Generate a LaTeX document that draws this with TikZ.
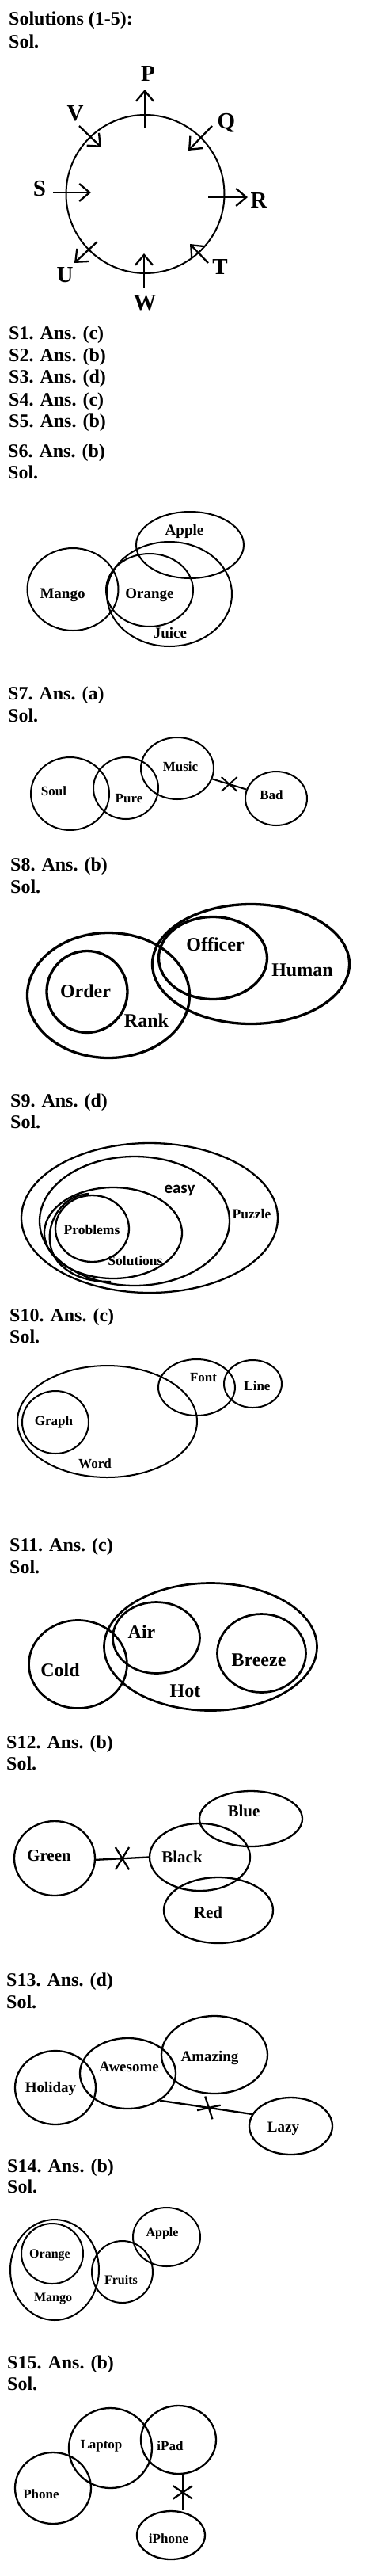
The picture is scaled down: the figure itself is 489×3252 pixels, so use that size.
\documentclass[tikz,border=0pt]{standalone}
\usepackage{fontspec}
\setmainfont{Liberation Serif}
\newfontfamily\easyfont{Carlito}
\usetikzlibrary{shapes.geometric,shapes.misc,arrows.meta}
\tikzset{
  ov/.style={draw, ellipse, inner sep=0pt, line width=2pt},
  wh/.style 2 args={minimum width=#1pt, minimum height=#2pt},
  hd/.style={anchor=base west, inner sep=0pt, font=\bfseries\fontsize{24}{24}\selectfont},
  lb/.style={anchor=mid, inner sep=0pt, font=\bfseries\fontsize{#1}{#1}\selectfont},
  letter/.style={anchor=center, inner sep=0pt, font=\bfseries\fontsize{29}{29}\selectfont},
  xm/.style 2 args={cross out, draw, inner sep=0pt, minimum width=#1pt, minimum height=#2pt},
  arr/.style={line width=2.3pt, -{Straight Barb[length=13pt, width=22pt]}},
}
\begin{document}
\begin{tikzpicture}[x=1pt, y=-1pt]
\useasboundingbox (0,0) rectangle (489,3252);
% ---------- headers ----------
\node[hd] (h0) at (11,32) {Solutions (1-5):};
\node[hd] (h0s) at (11,61) {Sol.};
\node[hd] (h1) at (11,428) {S1. Ans. (c)};
\node[hd] (h2) at (11,456) {S2. Ans. (b)};
\node[hd] (h3) at (11,483) {S3. Ans. (d)};
\node[hd] (h4) at (11,512) {S4. Ans. (c)};
\node[hd] (h5) at (11,539) {S5. Ans. (b)};
\node[hd] (h6) at (10,577) {S6. Ans. (b)};
\node[hd] (h6s) at (10,604) {Sol.};
\node[hd] (h7) at (10,883) {S7. Ans. (a)};
\node[hd] (h7s) at (10,911) {Sol.};
\node[hd] (h8) at (13,1099) {S8. Ans. (b)};
\node[hd] (h8s) at (13,1127) {Sol.};
\node[hd] (h9) at (13,1397) {S9. Ans. (d)};
\node[hd] (h9s) at (13,1424) {Sol.};
\node[hd] (h10) at (12,1668) {S10. Ans. (c)};
\node[hd] (h10s) at (12,1695) {Sol.};
\node[hd] (h11) at (12,1958) {S11. Ans. (c)};
\node[hd] (h11s) at (12,1986) {Sol.};
\node[hd] (h12) at (8,2207) {S12. Ans. (b)};
\node[hd] (h12s) at (8,2234) {Sol.};
\node[hd] (h13) at (8,2507) {S13. Ans. (d)};
\node[hd] (h13s) at (8,2535) {Sol.};
\node[hd] (h14) at (9,2742) {S14. Ans. (b)};
\node[hd] (h14s) at (9,2768) {Sol.};
\node[hd] (h15) at (9,2990) {S15. Ans. (b)};
\node[hd] (h15s) at (9,3017) {Sol.};
% ---------- circle (1-5) ----------
\node[draw, circle, line width=2pt, minimum size=200pt, inner sep=0pt] (ring) at (183.5,245) {};
\draw[arr] (183,161) -- (183,113);
\draw[arr] (100,159) -- (128,186);
\draw[arr] (268,159) -- (238,190);
\draw[arr] (67,243) -- (115,243);
\draw[arr] (263,249) -- (313,249);
\draw[arr] (123,305) -- (94,332);
\draw[arr] (182,363) -- (182,320);
\draw[arr] (263,332) -- (240,308);
\node[letter] (lP) at (187,93) {P};
\node[letter] (lV) at (95,143) {V};
\node[letter] (lQ) at (286,155) {Q};
\node[letter] (lS) at (50,238) {S};
\node[letter] (lR) at (327,253) {R};
\node[letter] (lU) at (82,347) {U};
\node[letter] (lW) at (183,382) {W};
\node[letter] (lT) at (278,337) {T};
% ---------- S6 ----------
\node[ov, wh={136}{84}] (apple6) at (240,688) {};
\node[ov, wh={115}{104}] (mango6) at (92,744) {};
\node[ov, wh={110}{92}] (orange6) at (189,745) {};
\node[ov, wh={158}{132}] (juice6) at (214,750) {};
\node[lb=19] (tapple6) at (233,673) {Apple};
\node[lb=19] (tmango6) at (79,753) {Mango};
\node[lb=19] (torange6) at (189,753) {Orange};
\node[lb=19] (tjuice6) at (215,803) {Juice};
% ---------- S7 ----------
\node[ov, wh={99}{92}] (soul7) at (88.5,1002) {};
\node[ov, wh={82}{78}] (pure7) at (159,995) {};
\node[ov, wh={92}{78}] (music7) at (224,970) {};
\node[ov, wh={78}{68}] (bad7) at (349,1008) {};
\draw[line width=2pt] (music7) -- node[xm={18}{16}, line width=2pt] (x7) {} (bad7);
\node[lb=17] (tsoul7) at (68,1002) {Soul};
\node[lb=17] (tpure7) at (163,1011) {Pure};
\node[lb=17] (tmusic7) at (228,971) {Music};
\node[lb=17] (tbad7) at (343,1007) {Bad};
% ---------- S8 ----------
\begin{scope}[every node/.append style={}]
\node[ov, line width=3.3pt, wh={205}{158}] (rank8) at (137,1256.5) {};
\node[ov, line width=3.3pt, wh={102}{103}] (order8) at (110,1252) {};
\node[ov, line width=3.3pt, wh={137}{104}] (officer8) at (269,1209.5) {};
\node[ov, line width=3.3pt, wh={249}{151}] (human8) at (317,1217) {};
\end{scope}
\node[lb=24] (torder8) at (108,1257) {Order};
\node[lb=24] (trank8) at (185,1294.5) {Rank};
\node[lb=24] (tofficer8) at (272,1198.5) {Officer};
\node[lb=24] (thuman8) at (382,1230) {Human};
% ---------- S9 ----------
\node[ov, line width=2.3pt, wh={324}{189}] (puzzle9) at (189,1537.5) {};
\node[ov, line width=2.3pt, wh={240}{163}] (easy9) at (170,1541.5) {};
\node[ov, line width=2.3pt, wh={174}{115}] (sol9) at (143,1556.5) {};
\node[ov, line width=2.3pt, wh={93}{84}] (prob9) at (116.5,1551) {};
\draw[line width=2.3pt] (112,1507) .. controls (68,1510) and (48,1565) .. (75,1595) .. controls (92,1612) and (112,1618) .. (140,1618);
\node[lb=17.5] (tprob9) at (116,1556.5) {Problems};
\node[lb=17.5] (tsol9) at (171,1595) {Solutions};
\node[lb=17.5] (tpuzzle9) at (318,1536) {Puzzle};
\node[anchor=mid, inner sep=0pt, font=\easyfont\bfseries\fontsize{21}{21}\selectfont] (teasy9) at (227,1504.5) {easy};
% ---------- S10 ----------
\node[ov, wh={227}{141}] (word10) at (135.5,1794.5) {};
\node[ov, wh={84}{79}] (graph10) at (70,1795.5) {};
\node[ov, wh={97}{71}] (font10) at (248.5,1751.5) {};
\node[ov, wh={73}{60}] (line10) at (319.5,1747) {};
\node[lb=17] (tgraph10) at (68,1797) {Graph};
\node[lb=17] (tword10) at (120,1851) {Word};
\node[lb=17] (tfont10) at (257,1742) {Font};
\node[lb=17] (tline10) at (325,1753) {Line};
% ---------- S11 ----------
\node[ov, line width=2.7pt, wh={124}{111}] (cold11) at (98.5,2101) {};
\node[ov, line width=2.7pt, wh={269}{161}] (hot11) at (266,2079) {};
\node[ov, line width=2.7pt, wh={110}{90}] (air11) at (197.5,2067.5) {};
\node[ov, line width=2.7pt, wh={112}{99}] (breeze11) at (330.5,2087) {};
\node[lb=24] (tcold11) at (76,2114.5) {Cold};
\node[lb=24] (tair11) at (179,2066) {Air};
\node[lb=24] (tbreeze11) at (327,2101) {Breeze};
\node[lb=24] (thot11) at (234,2140) {Hot};
% ---------- S12 ----------
\node[ov, line width=2.3pt, wh={102}{94}] (green12) at (69,2346) {};
\node[ov, line width=2.3pt, wh={127}{85}] (black12) at (252.5,2344.5) {};
\node[ov, line width=2.3pt, wh={130}{70}] (blue12) at (317,2296) {};
\node[ov, line width=2.3pt, wh={138}{83}] (red12) at (276,2411.5) {};
\draw[line width=2.3pt] (green12.-2) -- node[xm={15}{26}, line width=2.3pt] (x12) {} (black12.180);
\node[lb=21] (tgreen12) at (62,2347.5) {Green};
\node[lb=21] (tblack12) at (230,2349.5) {Black};
\node[lb=21] (tblue12) at (308,2291) {Blue};
\node[lb=21] (tred12) at (263,2419) {Red};
% ---------- S13 ----------
\node[ov, line width=2.3pt, wh={102}{93}] (holiday13) at (70,2635.5) {};
\node[ov, line width=2.3pt, wh={121}{89}] (awesome13) at (161.5,2617.5) {};
\node[ov, line width=2.3pt, wh={134}{98}] (amazing13) at (271,2594) {};
\node[ov, line width=2.3pt, wh={105}{72}] (lazy13) at (367.5,2684) {};
\draw[line width=2.3pt] (awesome13.-40) -- node[pos=0.53, xm={20}{18}, line width=2.3pt, rotate=-30] (x13) {} (lazy13.163);
\node[lb=19] (tholiday13) at (64,2639.5) {Holiday};
\node[lb=19] (tawesome13) at (163,2613.5) {Awesome};
\node[lb=19] (tamazing13) at (265,2600.5) {Amazing};
\node[lb=19] (tlazy13) at (358,2689) {Lazy};
% ---------- S14 ----------
\node[ov, wh={112}{127}] (mango14) at (69,2865.5) {};
\node[ov, wh={78}{76}] (orange14) at (66,2845) {};
\node[ov, wh={77}{78}] (fruits14) at (154.5,2868) {};
\node[ov, wh={85}{74}] (apple14) at (210.5,2824) {};
\node[lb=16] (torange14) at (63,2848) {Orange};
\node[lb=16] (tmango14) at (67,2903) {Mango};
\node[lb=16] (tfruits14) at (153,2881) {Fruits};
\node[lb=16] (tapple14) at (205,2821) {Apple};
% ---------- S15 ----------
\node[ov, line width=2.3pt, wh={96}{90}] (phone15) at (67,3141) {};
\node[ov, line width=2.3pt, wh={105}{101}] (laptop15) at (139.5,3090.5) {};
\node[ov, line width=2.3pt, wh={95}{86}] (ipad15) at (225.5,3080) {};
\node[ov, line width=2.3pt, wh={86}{61}] (iphone15) at (216,3200.5) {};
\draw[line width=2.3pt] (ipad15.-83) -- node[xm={22}{14}, line width=2.3pt] (x15) {} (ipad15.-83 |- iphone15.north);
\node[lb=17] (tlaptop15) at (128,3089.5) {Laptop};
\node[lb=17] (tipad15) at (215,3091) {iPad};
\node[lb=17] (tphone15) at (52,3152) {Phone};
\node[lb=17] (tiphone15) at (213,3208) {iPhone};
\end{tikzpicture}
\end{document}
